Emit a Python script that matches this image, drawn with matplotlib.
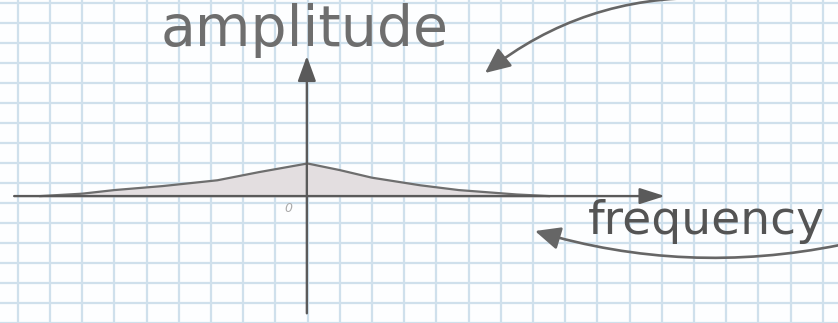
import numpy as np
import matplotlib
matplotlib.use("Agg")
import matplotlib.pyplot as plt

# spectrum sketch, in units of graph-paper squares (origin where the axes cross)
freq = [-8.3, -7.0, -6.0, -4.5, -2.8, -1.5, 0.0, 1.0, 2.0, 3.5, 4.7, 6.5, 7.5]
amp = [0.0, 0.12, 0.3, 0.5, 0.79, 1.2, 1.63, 1.3, 0.92, 0.54, 0.3, 0.08, 0.0]

x_label = "frequency"
y_label = "amplitude"
origin_label = "0"

W, H = 838, 323
fig = plt.figure(figsize=(W / 100, H / 100), dpi=100)
fig.patch.set_facecolor("#fdfeff")
ax = fig.add_axes([0, 0, 1, 1])
ax.set_facecolor("#fdfeff")

# one square is 32.2 px wide and 20.3 px tall on the paper
ax.set_xlim(-307.5 / 32.2, (W - 307.5) / 32.2)
ax.set_ylim((199 - H) / 20.3, 199 / 20.3)

# graph paper
ax.set_xticks(np.arange(-9, 17))
ax.set_yticks(np.arange(-7, 10) + 0.655)
ax.tick_params(length=0, labelbottom=False, labelleft=False)
for s in ax.spines.values():
    s.set_visible(False)
ax.grid(True, color="#cfe0ec", linewidth=1.6)
ax.set_axisbelow(True)

ink = "#5a5a5a"

# the curve
ax.fill_between(freq, amp, 0, color="#e3dee0", zorder=2)
ax.plot(freq, amp, color="#6e6e6e", lw=1.6, zorder=3)

# axes with arrowheads
ax.annotate("", xy=(11.1, 0), xytext=(-9.11, 0),
            arrowprops=dict(arrowstyle="-|>,head_length=1.1,head_width=0.35",
                            color=ink, lw=1.7, mutation_scale=14, shrinkA=0, shrinkB=0),
            zorder=4)
ax.annotate("", xy=(-0.02, 7.0), xytext=(-0.02, -5.86),
            arrowprops=dict(arrowstyle="-|>,head_length=1.1,head_width=0.4",
                            color=ink, lw=1.7, mutation_scale=14, shrinkA=0, shrinkB=0),
            zorder=4)

ax.text(-0.6, -0.6, origin_label, fontsize=9, color="#aaaaaa", style="italic",
        ha="center", va="center", zorder=4)

ax.text(-0.1, 7.49, y_label, fontsize=41, color="#6e6e6e", family="DejaVu Sans",
        ha="center", va="baseline", zorder=4)
ax.text(12.4, -1.92, x_label, fontsize=34, color="#545454", family="DejaVu Sans",
        ha="center", va="baseline", zorder=4)

# curved pointers (figure pixels, y up)
ax.annotate("", xy=(485, H - 73), xytext=(708, H + 2), xycoords="figure pixels",
            textcoords="figure pixels",
            arrowprops=dict(arrowstyle="-|>,head_length=1.1,head_width=0.5",
                            connectionstyle="arc3,rad=0.18", color="#666666",
                            lw=1.9, mutation_scale=14, shrinkA=0, shrinkB=0))
ax.annotate("", xy=(535, H - 231), xytext=(W + 2, H - 245), xycoords="figure pixels",
            textcoords="figure pixels",
            arrowprops=dict(arrowstyle="-|>,head_length=1.1,head_width=0.5",
                            connectionstyle="arc3,rad=-0.125", color="#666666",
                            lw=1.9, mutation_scale=14, shrinkA=0, shrinkB=0))

fig.savefig("out.png", dpi=100, facecolor=fig.get_facecolor())
